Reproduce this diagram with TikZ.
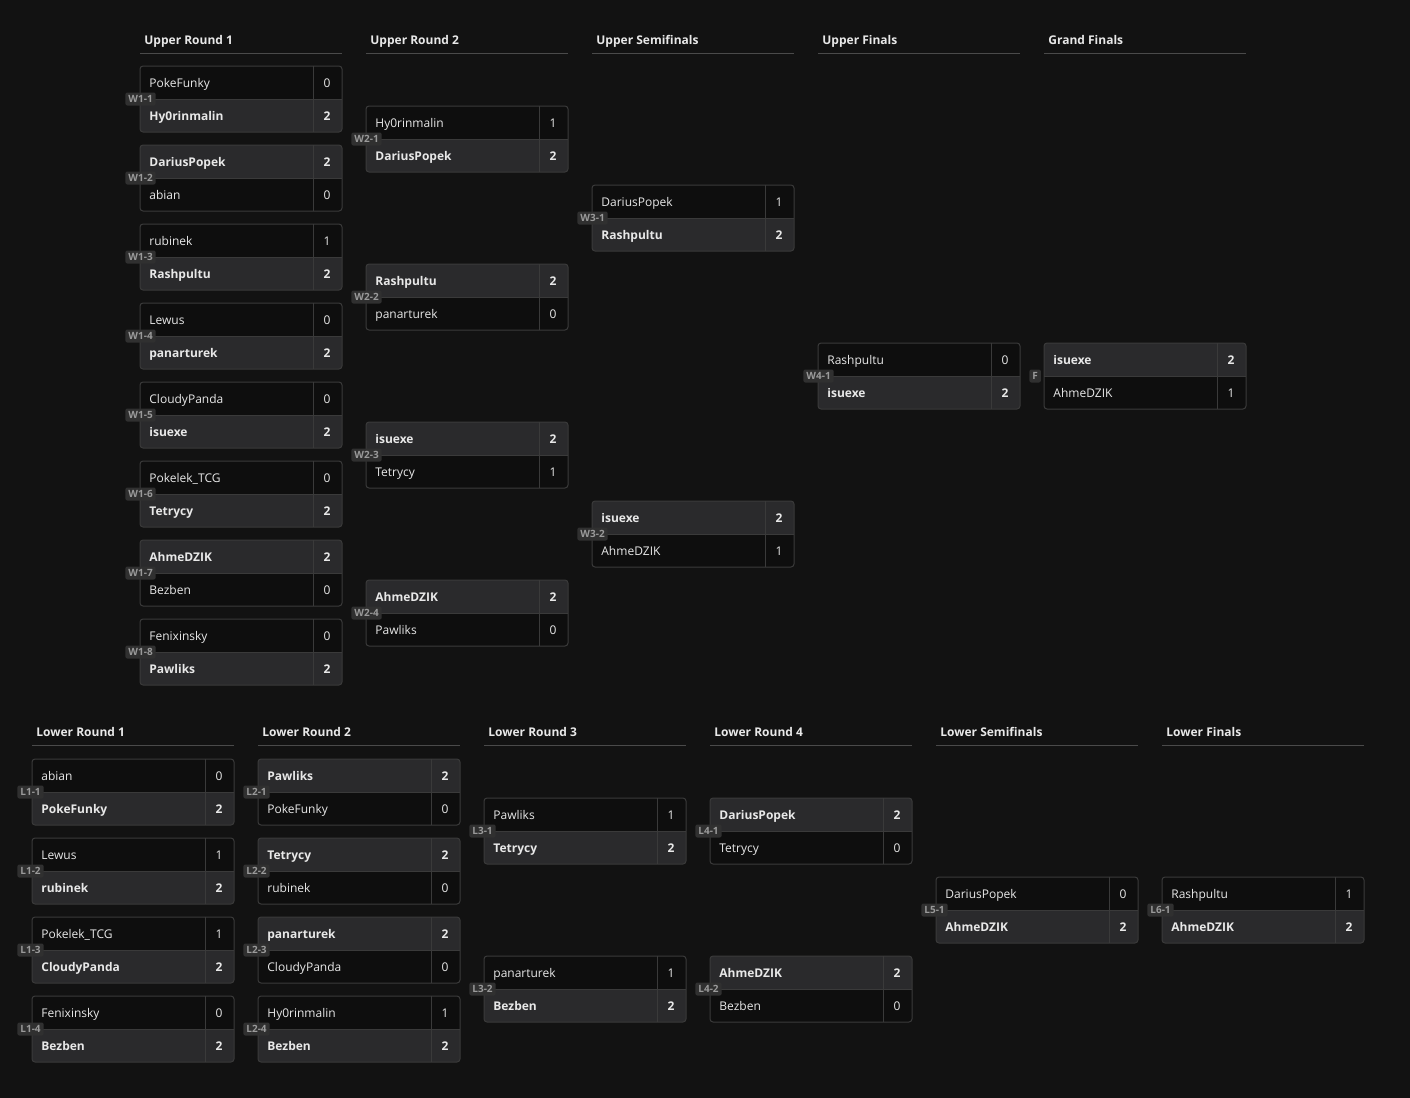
\documentclass[tikz,border=0pt]{standalone}
\usepackage{fontspec}
\setmainfont{Open Sans}
\usepackage{tikz}

\definecolor{bg}{HTML}{121212}
\definecolor{rowhi}{HTML}{2A2A2C}
\definecolor{rowlo}{HTML}{0E0E0E}
\definecolor{edgec}{HTML}{3A3A3A}
\definecolor{rulec}{HTML}{4A4A4A}
\definecolor{tagbg}{HTML}{303030}
\definecolor{tagtx}{HTML}{9A9A9A}
\definecolor{txt}{HTML}{E8E8E8}

% one match box: x, y, tag, name a, score a, style a, name b, score b, style b
\newcommand{\mtch}[9]{%
\begin{scope}[shift={(#1,#2)}]
 \begin{scope}
  \clip[rounded corners=1.5pt] (0,0) rectangle (202,66);
  \fill[#6] (0,0) rectangle (202,33);
  \fill[#9] (0,33) rectangle (202,66);
 \end{scope}
 \node[pname,#6] (#3-a) at (9,21) {#4};
 \node[pscore,#6] (#3-sa) at (187,21) {#5};
 \node[pname,#9] (#3-b) at (9,54) {#7};
 \node[pscore,#9] (#3-sb) at (187,54) {#8};
 \draw[edge,rounded corners=1.5pt] (0,0) rectangle (202,66);
 \draw[edge] (0,33) -- (202,33) (173,0) -- (173,66);
 \node[tag] (#3) at (-15,33) {#3};
\end{scope}}

\begin{document}
\fontsize{6}{7.5}\selectfont
\begin{tikzpicture}[x=0.5pt,y=-0.5pt,
  edge/.style={draw=edgec,line width=0.5pt},
  win/.style={fill=rowhi,font=\bfseries},
  lose/.style={fill=rowlo},
  pname/.style={anchor=base west,inner sep=0pt,text=txt},
  pscore/.style={anchor=base,inner sep=0pt,text=txt},
  tag/.style={anchor=west,fill=tagbg,text=tagtx,rounded corners=1pt,
    font=\fontsize{5}{6}\selectfont\bfseries,inner xsep=1.5pt,inner ysep=0pt,minimum height=6.5pt},
  head/.style={anchor=base west,inner sep=0pt,text=txt,font=\bfseries}]
\fill[bg] (0,0) rectangle (1410,1098);
\useasboundingbox (0,0) rectangle (1410,1098);

% headers
\foreach \x/\t in {140/Upper Round 1,366/Upper Round 2,592/Upper Semifinals,818/Upper Finals,1044/Grand Finals}{
 \node[head] (hu\x) at (\x+4,44.5) {\t};
 \draw[rulec,line width=0.5pt] (\x,53) -- (\x+202,53);
}
\foreach \x/\t in {32/Lower Round 1,258/Lower Round 2,484/Lower Round 3,710/Lower Round 4,936/Lower Semifinals,1162/Lower Finals}{
 \node[head] (hl\x) at (\x+4,736.5) {\t};
 \draw[rulec,line width=0.5pt] (\x,745) -- (\x+202,745);
}

% upper bracket
\mtch{140}{66}{W1-1}{PokeFunky}{0}{lose}{Hy0rinmalin}{2}{win}
\mtch{140}{145}{W1-2}{DariusPopek}{2}{win}{abian}{0}{lose}
\mtch{140}{224}{W1-3}{rubinek}{1}{lose}{Rashpultu}{2}{win}
\mtch{140}{303}{W1-4}{Lewus}{0}{lose}{panarturek}{2}{win}
\mtch{140}{382}{W1-5}{CloudyPanda}{0}{lose}{isuexe}{2}{win}
\mtch{140}{461}{W1-6}{Pokelek\_TCG}{0}{lose}{Tetrycy}{2}{win}
\mtch{140}{540}{W1-7}{AhmeDZIK}{2}{win}{Bezben}{0}{lose}
\mtch{140}{619}{W1-8}{Fenixinsky}{0}{lose}{Pawliks}{2}{win}

\mtch{366}{106}{W2-1}{Hy0rinmalin}{1}{lose}{DariusPopek}{2}{win}
\mtch{366}{264}{W2-2}{Rashpultu}{2}{win}{panarturek}{0}{lose}
\mtch{366}{422}{W2-3}{isuexe}{2}{win}{Tetrycy}{1}{lose}
\mtch{366}{580}{W2-4}{AhmeDZIK}{2}{win}{Pawliks}{0}{lose}

\mtch{592}{185}{W3-1}{DariusPopek}{1}{lose}{Rashpultu}{2}{win}
\mtch{592}{501}{W3-2}{isuexe}{2}{win}{AhmeDZIK}{1}{lose}

\mtch{818}{343}{W4-1}{Rashpultu}{0}{lose}{isuexe}{2}{win}
\mtch{1044}{343}{F}{isuexe}{2}{win}{AhmeDZIK}{1}{lose}

% lower bracket
\mtch{32}{759}{L1-1}{abian}{0}{lose}{PokeFunky}{2}{win}
\mtch{32}{838}{L1-2}{Lewus}{1}{lose}{rubinek}{2}{win}
\mtch{32}{917}{L1-3}{Pokelek\_TCG}{1}{lose}{CloudyPanda}{2}{win}
\mtch{32}{996}{L1-4}{Fenixinsky}{0}{lose}{Bezben}{2}{win}

\mtch{258}{759}{L2-1}{Pawliks}{2}{win}{PokeFunky}{0}{lose}
\mtch{258}{838}{L2-2}{Tetrycy}{2}{win}{rubinek}{0}{lose}
\mtch{258}{917}{L2-3}{panarturek}{2}{win}{CloudyPanda}{0}{lose}
\mtch{258}{996}{L2-4}{Hy0rinmalin}{1}{lose}{Bezben}{2}{win}

\mtch{484}{798}{L3-1}{Pawliks}{1}{lose}{Tetrycy}{2}{win}
\mtch{484}{956}{L3-2}{panarturek}{1}{lose}{Bezben}{2}{win}

\mtch{710}{798}{L4-1}{DariusPopek}{2}{win}{Tetrycy}{0}{lose}
\mtch{710}{956}{L4-2}{AhmeDZIK}{2}{win}{Bezben}{0}{lose}

\mtch{936}{877}{L5-1}{DariusPopek}{0}{lose}{AhmeDZIK}{2}{win}
\mtch{1162}{877}{L6-1}{Rashpultu}{1}{lose}{AhmeDZIK}{2}{win}
\end{tikzpicture}
\end{document}
